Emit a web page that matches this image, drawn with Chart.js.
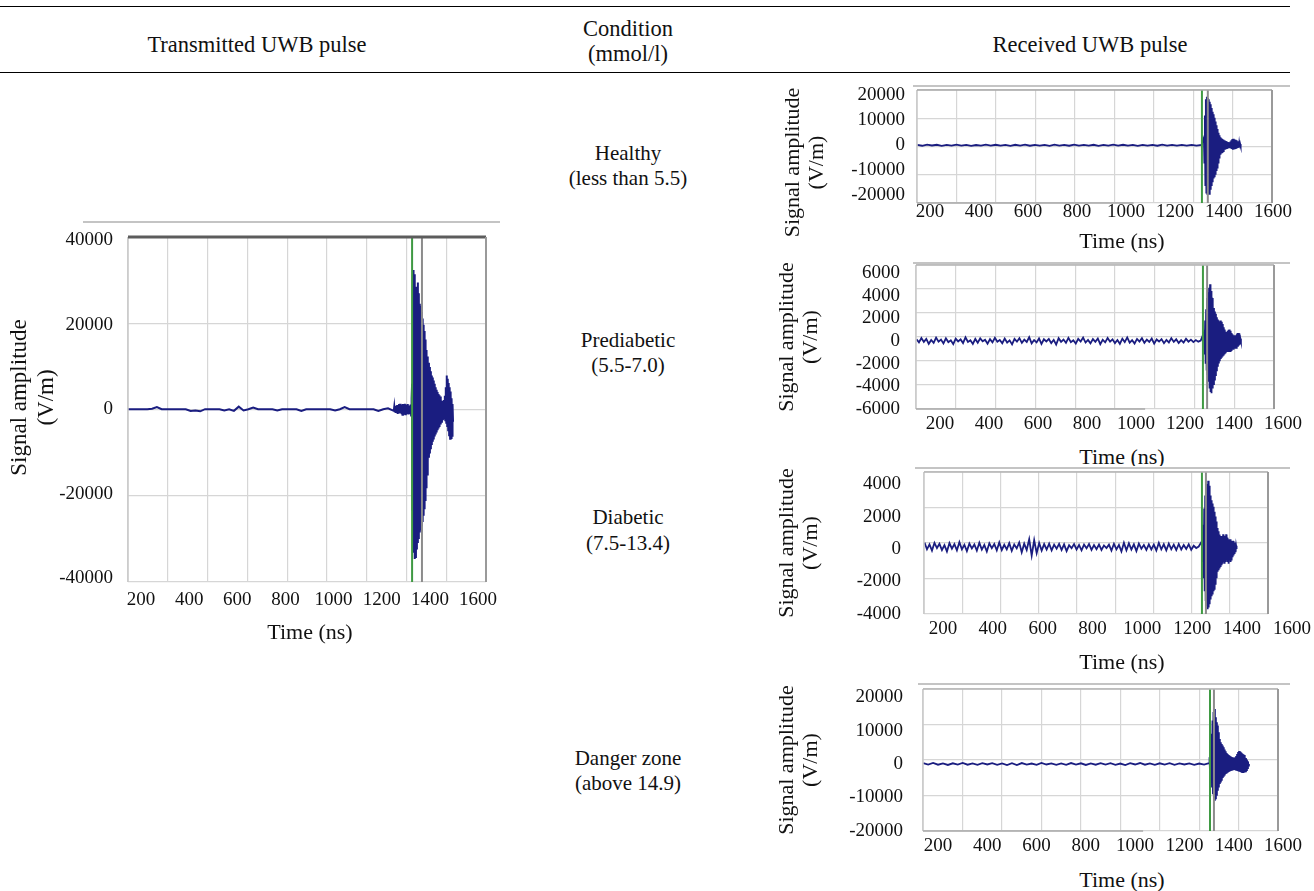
<!DOCTYPE html>
<html>
<head>
<meta charset="utf-8">
<script src="https://cdn.jsdelivr.net/npm/chart.js@4.4.1/dist/chart.umd.min.js"></script>
<style>
  html, body { margin: 0; padding: 0; background: #fff; }
  body { width: 1314px; height: 891px; position: relative; overflow: hidden; font-family: 'Liberation Serif', serif; color: #111; }
  .t { position: absolute; transform: translate(-50%, -50%); white-space: nowrap; font-size: 21px; line-height: 1; z-index: 3; }
  .h { font-size: 22.5px; }
  .x { font-size: 22px; }
  .rule { position: absolute; left: 0; width: 1290px; height: 0; border-top: 1.5px solid #000; }
  canvas { position: absolute; z-index: 2; }
</style>
</head>
<body>
<div class="rule" style="top:6px"></div>
<div class="rule" style="top:72px"></div>
<div class="t h" style="left:257px;top:45px">Transmitted UWB pulse</div>
<div class="t h" style="left:628px;top:29px">Condition</div>
<div class="t h" style="left:628px;top:54px">(mmol/l)</div>
<div class="t h" style="left:1090px;top:45px">Received UWB pulse</div>

<div class="t" style="left:628px;top:153px">Healthy</div>
<div class="t" style="left:628px;top:178px">(less than 5.5)</div>
<div class="t" style="left:628px;top:340px">Prediabetic</div>
<div class="t" style="left:628px;top:365px">(5.5-7.0)</div>
<div class="t" style="left:628px;top:517px">Diabetic</div>
<div class="t" style="left:628px;top:543px">(7.5-13.4)</div>
<div class="t" style="left:628px;top:758px">Danger zone</div>
<div class="t" style="left:628px;top:783px">(above 14.9)</div>

<div class="t x" style="left:310px;top:632px">Time (ns)</div>
<div class="t x" style="left:1122px;top:241px">Time (ns)</div>
<div class="t x" style="left:1122px;top:457px;z-index:1">Time (ns)</div>
<div class="t x" style="left:1122px;top:662px">Time (ns)</div>
<div class="t x" style="left:1122px;top:880px">Time (ns)</div>

<canvas id="tx" width="512" height="440" style="left:0;top:212px"></canvas>
<canvas id="healthy" width="544" height="170" style="left:770px;top:80px"></canvas>
<canvas id="prediabetic" width="544" height="185" style="left:770px;top:255px"></canvas>
<canvas id="diabetic" width="544" height="190" style="left:770px;top:466px;background:#fff"></canvas>
<canvas id="danger" width="544" height="185" style="left:770px;top:679px"></canvas>

<script>
// tick labels
var xTickLabels = [200, 400, 600, 800, 1000, 1200, 1400, 1600];
var txTicksY = [-40000, -20000, 0, 20000, 40000];
var healthyTicksY = [-20000, -10000, 0, 10000, 20000];
var prediabeticTicksY = [-6000, -4000, -2000, 0, 2000, 4000, 6000];
var diabeticTicksY = [-4000, -2000, 0, 2000, 4000];
var dangerTicksY = [-20000, -10000, 0, 10000, 20000];

// sampled traces (V/m): quiet part on a coarse grid, pulse part every 2 ns
var txBaseStart = 146, txBaseStep = 20;
var txBase = [0, 0, 0, 0, 0, 100, 500, 0, 0, 0, 0, 0, 0, -400, -300, -500, 0, 0, 0, 0,
  -300, 0, -400, 600, -300, 0, 400, 0, 0, 0, 0, -300, 0, 0, 0, 0, -400, 0, 0, 0,
  0, 0, 0, -300, 0, 500, 0, 0, 0, 0, 0, 0, -400, 0, 200];
var txBurstStart = 1250;
var txBurst = [-400, 600, -700, 500, -900, 800, -600, 1000, -1100, 900,
  -800, 1200, -1000, 1300, -900, 1100, -1200, 1000, -1300, 1200,
  -1100, 900, -1000, 1300, -1200, 1100, -900, 1000, -800, 1200,
  -1000, 900, -700, 800, -900, 1100, -1500, 2500,
  6000, -24000, 33000, -34000, 32000, -35500, 31000, -35000, 29000, -33000,
  28000, -31500, 30000, -30500, 27500, -29000, 25000, -28500, 24500, -27500,
  23000, -26500, 21500, -25000, 20000, -23500, 18500, -21500, 16500, -18500,
  14000, -15500, 12500, -13000, 11000, -11500, 10000, -10500, 9000, -9500,
  8000, -8500, 7500, -7700, 6800, -7200, 6000, -6500, 5200, -6000,
  4600, -5500, 4100, -5000, 3600, -4600, 3300, -4200, 3000, -3600,
  2500, -3000, 2000, -2400, 1600, -1900, 2200, -2200, 3200, -2600,
  5200, -3200, 8000, -4000, 7200, -5000, 6200, -6200, 5200, -7000,
  4200, -6800, 2600, -6300, 1200, -3000];
var txMarkers = [1326, 1367];

var healthyBaseStart = 148, healthyBaseStep = 20;
var healthyBase = [150, -200, 250, -100, 200, -250, 120, -180, 220, -120, 180, -220, 100, -160, 240, -140, 200, -180, 130, -230,
  190, -110, 220, -200, 160, -150, 120, -210, 240, -130, 180, -190, 230, -160, 110, -140, 200, -220, 150, -170,
  210, -120, 190, -180, 130, -210, 170, -110, 150, -190, 220, -130, 180, -160, 120, -140, 180, -120, 100];
var healthyBurstStart = 1318;
var healthyBurst = [3000, -7000, 12000, -16000, 18500, -19000, 19500, -19500, 19000, -19000,
  18500, -19500, 17500, -17500, 16500, -16000, 15000, -14500, 13500, -13000,
  12500, -12500, 11000, -11500, 9500, -10000, 8000, -9000, 6500, -7000,
  5000, -5000, 4000, -3500, 3200, -3000, 2800, -2700, 2500, -2300,
  2200, -2000, 1900, -1800, 1700, -1600, 1500, -1500, 1300, -1300,
  1200, -1200, 1100, -1200, 1500, -1300, 2000, -1500, 2500, -1800,
  2600, -1700, 2300, -1600, 2200, -1500, 2000, -1300, 1600, -1100,
  1200, -1000, 800, -700, 500, -300, 0];
var healthyMarkers = [1310, 1334];

var prediabeticBaseStart = 104, prediabeticBaseStep = 10;
var prediabeticBase = [150, -120, 260, -80, 180, -250, 90, -160, 300, -60, 120, -220, 240, -100, 60, -280, 200, -40, 140, -180,
  320, -90, 70, -260, 180, -150, 230, -30, 110, -240, 160, -120, 280, -70, 90, -200, 210, -140, 50, -300,
  190, -60, 250, -170, 120, -90, 340, -210, 80, -130, 220, -260, 150, -40, 180, -190, 100, -320, 240, -80,
  130, -160, 270, -110, 60, -230, 190, -50, 300, -140, 90, -210, 170, -70, 220, -280, 110, -120, 260, -60,
  140, -190, 80, -250, 200, -100, 310, -150, 70, -220, 180, -60, 240, -170, 120, -90, 210, -240, 130, -50,
  160, -200, 90, -130, 250, -80, 150, -180, 70, -140, 190, -60, 120, -100, 80, -60, 40];
var prediabeticBurstStart = 1278;
var prediabeticBurst = [800, -1200, 1800, -2000, 2800, -2600, 3800, -3000, 4300, -3600,
  4700, -4200, 5000, -4500, 4400, -4600, 3800, -4200, 3300, -3800,
  2900, -3400, 2600, -3000, 2400, -2600, 2100, -2200, 1900, -1900,
  1800, -1700, 1700, -1500, 1800, -1400, 1700, -1300, 1500, -1200,
  1200, -1100, 1000, -1000, 800, -900, 800, -900, 900, -900,
  1000, -900, 1000, -900, 900, -800, 700, -700, 600, -700,
  500, -600, 500, -600, 500, -600, 600, -500, 700, -500,
  700, -400, 500, -300, 200, 0];
var prediabeticMarkers = [1273, 1290];

var diabeticBaseStart = 126, diabeticBaseStep = 10;
var diabeticBase = [400, -20, 280, -100, 380, 60, 320, -60, 240, -150, 360, 20, 300, -80, 420, -20, 260, -130, 330, 40,
  280, -100, 380, -40, 250, -150, 350, 50, 310, -80, 400, -60, 260, -20, 360, -110, 280, 40, 400, -200,
  330, -60, 600, -400, 540, -250, 370, -100, 300, -30, 330, -80, 270, 20, 320, -60, 280, -130, 230, 50,
  300, -30, 250, -80, 270, 40, 310, -50, 240, -10, 280, -60, 220, 60, 270, -100, 320, -20, 250, -150,
  380, -80, 350, -30, 290, -130, 330, 20, 250, -60, 290, -30, 270, -90, 370, -20, 290, -80, 330, -10,
  270, -60, 310, -30, 250, 0, 290, -50, 200, 60, 150];
var diabeticBurstStart = 1240;
var diabeticBurst = [500, -800, 1500, -1800, 2500, -2600, 3300, -3200, 3800, -3500,
  4000, -3700, 4200, -3600, 3900, -3400, 3300, -3100, 3000, -2900,
  2800, -2800, 2600, -2600, 2300, -2500, 2000, -2200, 1700, -1800,
  1300, -1400, 1100, -1300, 900, -1200, 800, -1100, 700, -1000,
  800, -900, 900, -800, 700, -900, 800, -800, 900, -700,
  700, -800, 600, -900, 500, -700, 600, -800, 500, -700,
  400, -500, 500, -400, 400, -300, 300, -200, 200, 0];
var diabeticMarkers = [1239, 1255];

var dangerBaseStart = 140, dangerBaseStep = 20;
var dangerBase = [250, -150, 300, -200, 180, -280, 220, -150, 320, -200, 160, -260, 240, -130, 280, -220, 170, -290, 230, -320,
  280, -200, 150, -260, 330, -140, 210, -270, 160, -230, 290, -150, 220, -280, 170, -210, 260, -160, 230, -220,
  150, -290, 240, -140, 300, -210, 170, -220, 220, -150, 280, -230, 160, -140, 210, -220, 150, -200, 280];
var dangerBurstStart = 1302;
var dangerBurst = [2000, -2500, 5000, -5000, 9000, -7000, 13000, -9000, 15500, -10000,
  16400, -11000, 14000, -10500, 12500, -9500, 11500, -8000, 9500, -7000,
  7500, -6000, 6500, -5500, 6000, -5000, 5500, -4200, 5000, -3800,
  4300, -3400, 3800, -3000, 3300, -2800, 3000, -2600, 2700, -2400,
  2500, -2200, 2300, -2100, 2100, -2000, 2000, -1900, 1900, -1800,
  1800, -1800, 2000, -1900, 2400, -2000, 3000, -2100, 3600, -2200,
  3900, -2300, 3700, -2400, 3400, -2600, 3100, -2700, 2900, -2700,
  2700, -2500, 2300, -2200, 1800, -1800, 1300, -1200, 800, -500, 0];
var dangerMarkers = [1304, 1320];

var traceColor = '#1a1d80';
var serif = 'Liberation Serif';

function trace(baseStart, baseStep, base, burstStart, burst) {
  var pts = base.map(function (v, i) { return {x: baseStart + i * baseStep, y: v}; });
  burst.forEach(function (v, i) { pts.push({x: burstStart + i * 2, y: v}); });
  return pts;
}

// keep the plot box where it is set, labels may overhang
function noPad(s) {
  s.paddingTop = 0; s.paddingBottom = 0; s.paddingLeft = 0; s.paddingRight = 0;
}

// the source figure has some y titles sitting off the plot centre
function nudgeTitle(s, dy) {
  if (s._nudged || !dy) return;
  s._nudged = true;
  var draw = s.drawTitle;
  s.drawTitle = function () {
    this.ctx.save();
    this.ctx.translate(0, dy);
    draw.call(this);
    this.ctx.restore();
  };
}

// plot frame, marker lines and the stray screenshot edges
var framePlugin = {
  id: 'frame',
  afterDatasetsDraw: function (chart, args, o) {
    var ctx = chart.ctx, a = chart.chartArea, sx = chart.scales.x;
    ctx.save();
    o.markers.forEach(function (t, i) {
      var px = sx.getPixelForValue(t);
      ctx.strokeStyle = i === 0 ? '#3f9a43' : '#8c8c8c';
      ctx.lineWidth = 2;
      ctx.beginPath(); ctx.moveTo(px, a.top); ctx.lineTo(px, a.bottom); ctx.stroke();
    });
    ctx.lineWidth = 1.5;
    ctx.strokeStyle = '#c8c8c8';
    ctx.beginPath(); ctx.moveTo(a.left, a.top); ctx.lineTo(a.left, a.bottom); ctx.stroke();
    ctx.strokeStyle = o.topColor; ctx.lineWidth = o.topWidth;
    ctx.beginPath(); ctx.moveTo(a.left, a.top); ctx.lineTo(a.right, a.top); ctx.stroke();
    ctx.strokeStyle = '#9a9a9a'; ctx.lineWidth = 2;
    ctx.beginPath(); ctx.moveTo(a.right, a.top); ctx.lineTo(a.right, a.bottom); ctx.stroke();
    if (o.bottomFrac > 0) {
      ctx.strokeStyle = '#a8a8a8'; ctx.lineWidth = 1.5;
      ctx.beginPath(); ctx.moveTo(a.left, a.bottom);
      ctx.lineTo(a.left + (a.right - a.left) * o.bottomFrac, a.bottom); ctx.stroke();
    }
    ctx.strokeStyle = '#c4c4c4'; ctx.lineWidth = 2;
    ctx.beginPath();
    ctx.moveTo(a.left + o.edge[0], a.top + o.edge[2]);
    ctx.lineTo(a.right + o.edge[1], a.top + o.edge[2]);
    ctx.stroke();
    ctx.restore();
  }
};

function makeChart(id, g) {
  return new Chart(document.getElementById(id), {
    type: 'line',
    data: {
      datasets: [{
        data: g.points,
        borderColor: traceColor,
        borderWidth: g.lw,
        pointRadius: 0,
        tension: 0
      }]
    },
    options: {
      responsive: false,
      animation: false,
      events: [],
      layout: { autoPadding: false, padding: g.pad },
      plugins: {
        legend: { display: false },
        tooltip: { enabled: false },
        frame: g.frame
      },
      scales: {
        x: {
          type: 'linear', min: g.xMin, max: g.xMax,
          afterBuildTicks: function (s) { s.ticks = xTickLabels.map(function (v) { return {value: v}; }); },
          afterFit: function (s) { s.height = g.xH; noPad(s); },
          grid: { display: false, drawTicks: false },
          border: { display: false },
          ticks: {
            autoSkip: false, maxRotation: 0, minRotation: 0, padding: g.xPad, color: '#111',
            font: { family: serif, size: 19, lineHeight: 1 },
            callback: function (v) { return String(v); }
          }
        },
        y: {
          type: 'linear', min: g.yMin, max: g.yMax,
          afterBuildTicks: function (s) { s.ticks = g.yTicks.map(function (v) { return {value: v}; }); },
          afterFit: function (s) { s.width = g.yW; noPad(s); nudgeTitle(s, g.titleDy); },
          grid: { display: false, drawTicks: false },
          border: { display: false },
          ticks: {
            padding: g.yPad, color: '#111',
            font: { family: serif, size: 19, lineHeight: 1 },
            callback: function (v) { return String(v); }
          },
          title: {
            display: true,
            text: ['Signal amplitude', '(V/m)'],
            color: '#111',
            font: { family: serif, size: g.titleSize, lineHeight: g.titleLh },
            padding: { top: g.titlePad, bottom: 0 }
          }
        },
        gx: {
          type: 'linear', position: 'bottom', min: 0, max: 9,
          afterFit: function (s) { s.height = 0; noPad(s); },
          ticks: { display: false, stepSize: 1 },
          grid: { color: '#d6d6d6', lineWidth: 1.2, drawTicks: false },
          border: { display: false }
        },
        gy: {
          type: 'linear', position: 'left', min: 0, max: g.hLines,
          afterFit: function (s) { s.width = 0; noPad(s); },
          ticks: { display: false, stepSize: 1 },
          grid: { color: '#d6d6d6', lineWidth: 1.2, drawTicks: false },
          border: { display: false }
        }
      }
    },
    plugins: [framePlugin]
  });
}

makeChart('tx', {
  points: trace(txBaseStart, txBaseStep, txBase, txBurstStart, txBurst),
  lw: 2, xMin: 146, xMax: 1633, yMin: -40950, yMax: 40800, yTicks: txTicksY,
  pad: { left: 0, top: 25, right: 26, bottom: 30 }, xH: 40, yW: 128, xPad: 9, yPad: 15,
  titleSize: 23, titleLh: 1.2, titlePad: 6, titleDy: -12, hLines: 4,
  frame: { markers: txMarkers, topColor: '#5c5c5c', topWidth: 3, bottomFrac: 0, edge: [-45, 14, -15] }
});

makeChart('healthy', {
  points: trace(healthyBaseStart, healthyBaseStep, healthyBase, healthyBurstStart, healthyBurst),
  lw: 1.8, xMin: 147, xMax: 1596, yMin: -23200, yMax: 22200, yTicks: healthyTicksY,
  pad: { left: 0, top: 10, right: 42, bottom: 27 }, xH: 20, yW: 147, xPad: 0, yPad: 12,
  titleSize: 22, titleLh: 1.1, titlePad: 11, titleDy: 16, hLines: 4,
  frame: { markers: healthyMarkers, topColor: '#a8a8a8', topWidth: 1.5, bottomFrac: 0.61, edge: [-4, 18, -4] }
});

makeChart('prediabetic', {
  points: trace(prediabeticBaseStart, prediabeticBaseStep, prediabeticBase, prediabeticBurstStart, prediabeticBurst),
  lw: 1.8, xMin: 102, xMax: 1563, yMin: -6000, yMax: 6700, yTicks: prediabeticTicksY,
  pad: { left: 0, top: 10, right: 40, bottom: 1 }, xH: 30, yW: 146, xPad: 6, yPad: 16,
  titleSize: 22, titleLh: 1.1, titlePad: 5, titleDy: 0, hLines: 6,
  frame: { markers: prediabeticMarkers, topColor: '#b4b4b4', topWidth: 1.5, bottomFrac: 0.64, edge: [-3, 16, -2] }
});

makeChart('diabetic', {
  points: trace(diabeticBaseStart, diabeticBaseStep, diabeticBase, diabeticBurstStart, diabeticBurst),
  lw: 1.8, xMin: 124, xMax: 1504, yMin: -4000, yMax: 4740, yTicks: diabeticTicksY,
  pad: { left: 0, top: 6, right: 46, bottom: 12 }, xH: 30, yW: 154, xPad: 6, yPad: 23,
  titleSize: 22, titleLh: 1.1, titlePad: 5, titleDy: 0, hLines: 4,
  frame: { markers: diabeticMarkers, topColor: '#b4b4b4', topWidth: 1.5, bottomFrac: 0, edge: [-9, 22, -4] }
});

makeChart('danger', {
  points: trace(dangerBaseStart, dangerBaseStep, dangerBase, dangerBurstStart, dangerBurst),
  lw: 1.8, xMin: 139, xMax: 1580, yMin: -20000, yMax: 22400, yTicks: dangerTicksY,
  pad: { left: 0, top: 10, right: 36, bottom: 3 }, xH: 30, yW: 153, xPad: 6, yPad: 20,
  titleSize: 22, titleLh: 1.1, titlePad: 5, titleDy: 0, hLines: 4,
  frame: { markers: dangerMarkers, topColor: '#b4b4b4', topWidth: 1.5, bottomFrac: 0.62, edge: [-5, 12, -5] }
});
</script>
</body>
</html>
